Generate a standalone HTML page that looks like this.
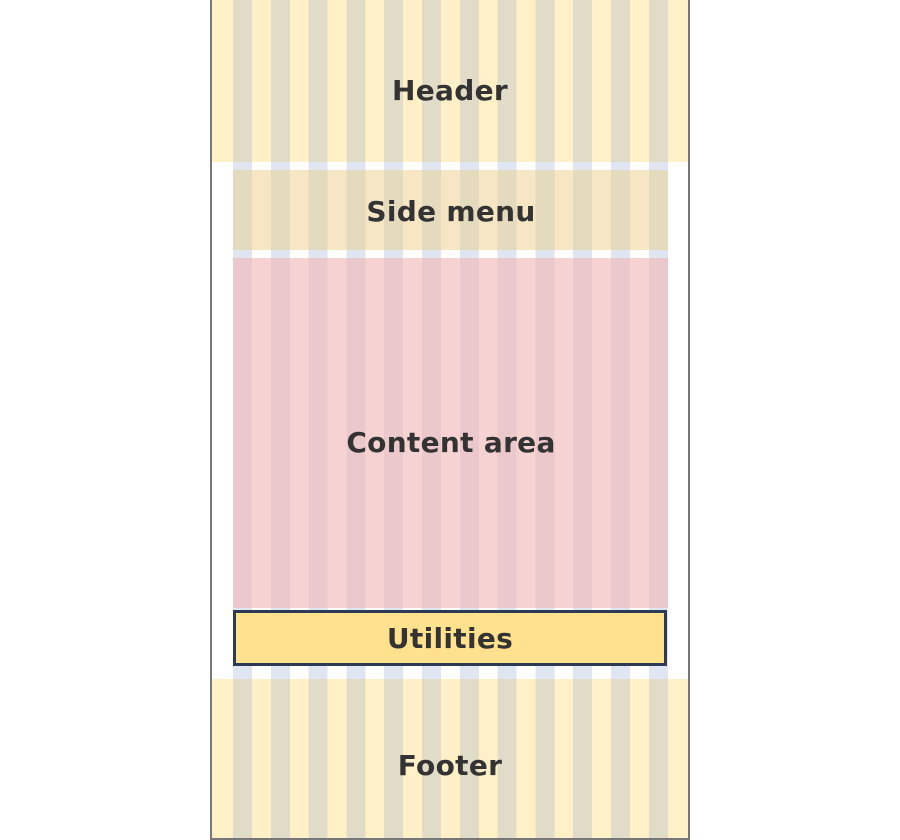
<!DOCTYPE html>
<html><head><meta charset="utf-8"><style>
body{margin:0;width:900px;height:840px;background:#fff;position:relative;overflow:hidden;font-family:"DejaVu Sans","Liberation Sans",sans-serif;}
.abs{position:absolute;}
.lbl{position:absolute;left:0;right:0;text-align:center;font-size:28px;font-weight:600;color:#333;letter-spacing:0.3px;z-index:2;}
.stripes{position:absolute;top:0;bottom:0;}
</style></head><body>
<div class="abs" style="left:233px;top:0;width:436px;height:840px;background:repeating-linear-gradient(to right,#dfe6f2 0 19px,transparent 19px 37.8px);"></div>
<div class="abs" style="left:210px;top:0;width:476px;height:838px;border:2px solid #777;border-top:none;"></div>
<div class="abs" style="left:212px;top:0;width:476px;height:162px;background:#fff0c8;">
<div class="stripes" style="left:21px;width:436px;background:repeating-linear-gradient(to right,#e0dcc8 0 19px,transparent 19px 37.8px);"></div>
<div class="lbl" style="top:74px">Header</div></div>
<div class="abs" style="left:234px;top:170px;width:434px;height:80px;background:#f6e6c4;">
<div class="stripes" style="left:-1px;width:435px;background:repeating-linear-gradient(to right,#e4dabd 0 19px,transparent 19px 37.8px);"></div>
<div class="lbl" style="top:25px">Side menu</div></div>
<div class="abs" style="left:234px;top:258px;width:434px;height:350px;background:#f7d2d2;">
<div class="stripes" style="left:-1px;width:435px;background:repeating-linear-gradient(to right,#ebc8cb 0 19px,transparent 19px 37.8px);"></div>
<div class="lbl" style="top:168px">Content area</div></div>
<div class="abs" style="left:212px;top:679px;width:476px;height:159px;background:#fff0c8;">
<div class="stripes" style="left:21px;width:436px;background:repeating-linear-gradient(to right,#e0dcc8 0 19px,transparent 19px 37.8px);"></div>
<div class="lbl" style="top:70px">Footer</div></div>
<div class="abs" style="left:233px;top:610px;width:428px;height:50px;border:3px solid #2d3a55;background:#ffe18e;"><div class="lbl" style="top:9px">Utilities</div></div>
</body></html>
